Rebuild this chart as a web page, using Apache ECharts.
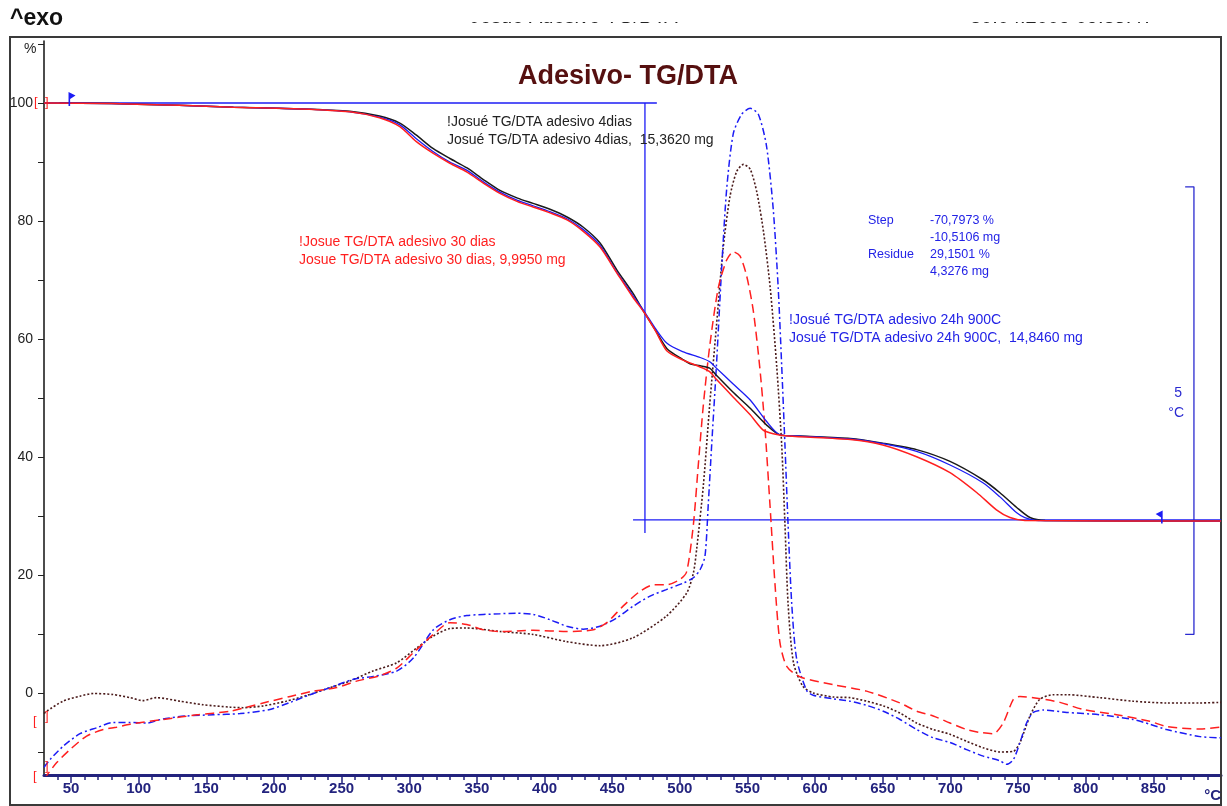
<!DOCTYPE html>
<html>
<head>
<meta charset="utf-8">
<title>Adesivo- TG/DTA</title>
<script src="https://cdn.jsdelivr.net/npm/echarts@6/dist/echarts.min.js"></script>
<style>
  html, body { margin: 0; padding: 0; background: #fff; }
  #chart { width: 1227px; height: 806px; }
</style>
</head>
<body>
<div id="chart"></div>
<script>
// ---- axis ranges / ticks ----
const tempMin = 30;
const tempMax = 900;
const yMin = -13.8;
const yMax = 110.5;
const xLabelTicks = [50, 100, 150, 200, 250, 300, 350, 400, 450, 500, 550, 600, 650, 700, 750, 800, 850];
const xMinorTicks = [40, 60, 70, 80, 90, 110, 120, 130, 140, 160, 170, 180, 190, 210, 220, 230, 240, 260, 270, 280, 290,
  310, 320, 330, 340, 360, 370, 380, 390, 410, 420, 430, 440, 460, 470, 480, 490, 510, 520, 530, 540, 560, 570, 580, 590,
  610, 620, 630, 640, 660, 670, 680, 690, 710, 720, 730, 740, 760, 770, 780, 790, 810, 820, 830, 840, 860, 870, 880, 890];
const yLabelTicks = [0, 20, 40, 60, 80, 100];
const yTicks = [-10, 0, 10, 20, 30, 40, 50, 60, 70, 80, 90, 100, 110];

// ---- TG curves (%) ----
const tg4Temp = [30, 80, 130, 170, 220, 256, 278, 293, 305, 317.5, 330, 342.7, 355, 367, 380, 391.5, 404, 416.6, 428.4, 441, 453.5, 465.3, 474, 482, 490.5, 502, 508, 515, 522, 527, 539, 552, 564, 574, 589, 626, 650, 675, 699.7, 724, 736.6, 749, 758.8, 770, 900];
const tg4Mass = [100, 99.9, 99.6, 99.3, 99.0, 98.6, 97.8, 96.6, 94.6, 92.3, 90.6, 89.0, 87.0, 85.2, 83.9, 83.0, 82.0, 80.7, 79.0, 76.3, 71.7, 67.8, 64.4, 61.5, 58.4, 56.6, 55.8, 55.5, 55.1, 53.9, 51.1, 48.3, 45.5, 43.8, 43.6, 43.2, 42.4, 41.3, 39.3, 36.2, 34.0, 31.5, 29.8, 29.3, 29.2];

const tg24Temp = [30, 80, 130, 170, 220, 256, 278, 293, 305, 317.5, 330, 342.7, 355, 367, 380, 391.5, 404, 416.6, 428.4, 441, 453.5, 465.3, 474, 482, 490.5, 502, 515, 522, 527, 539, 552, 564, 574, 589, 626, 650, 675, 699.7, 724, 736.6, 749, 755, 765, 900];
const tg24Mass = [100, 99.9, 99.6, 99.3, 99.0, 98.5, 97.6, 96.3, 94.0, 91.8, 90.0, 88.6, 86.6, 84.9, 83.5, 82.6, 81.6, 80.4, 78.6, 75.9, 71.3, 67.4, 64.6, 61.8, 59.3, 57.9, 56.9, 56.2, 55.1, 52.5, 49.7, 46.1, 43.8, 43.6, 43.1, 42.3, 41.0, 38.7, 35.7, 33.3, 30.6, 29.8, 29.3, 29.2];

const tg30Temp = [30, 80, 130, 170, 220, 256, 278, 293, 305, 317.5, 330, 342.7, 355, 367, 380, 391.5, 404, 416.6, 428.4, 441, 453.5, 465.3, 474, 482, 490.5, 502, 515, 522, 527, 539, 552, 561.6, 569, 580, 626, 650, 675, 699.7, 719.6, 734, 744, 755, 900];
const tg30Mass = [100, 99.9, 99.6, 99.3, 99.0, 98.5, 97.5, 96.0, 93.5, 91.5, 89.8, 88.3, 86.4, 84.7, 83.3, 82.4, 81.4, 80.2, 78.3, 75.6, 71.2, 67.1, 64.4, 61.4, 58.0, 56.5, 55.3, 54.5, 53.2, 50.3, 47.2, 44.6, 44.0, 43.6, 43.0, 42.1, 40.1, 37.4, 34.0, 31.1, 29.8, 29.3, 29.2];

// ---- DTA curves (read in the same plot units) ----
const dta4Temp = [30, 32, 44, 56.6, 66.4, 81, 93.6, 103, 113, 130.5, 147.5, 167.5, 177, 192, 209, 224, 241, 256, 273, 290.7, 305.5, 317.5, 330, 342, 367, 391.5, 416, 441, 465, 490, 505, 510, 512.5, 517.4, 522, 527, 532, 537, 542, 547, 552, 557, 561.9, 566.8, 571.6, 575.3, 577.7, 580, 584, 591, 598.6, 613.4, 625.7, 638, 650.4, 662.7, 675, 687.3, 699.7, 712, 724.3, 736.6, 746.5, 751.4, 758.8, 766, 776, 786, 810.5, 835, 859.8, 884.5, 900];
const dta4Val = [-3.4, -3.0, -1.3, -0.45, 0, -0.17, -0.7, -1.2, -0.7, -1.3, -1.9, -2.3, -2.4, -2.1, -1.3, -0.34, 0.96, 2.1, 3.8, 5.2, 7.7, 9.7, 11.0, 11.1, 10.5, 10.0, 8.8, 8.1, 9.4, 13.1, 17.0, 20.4, 24.6, 35.3, 48.7, 62.1, 75.4, 84.1, 88.4, 89.6, 88.8, 84.8, 78.1, 68.7, 55.4, 42.0, 28.6, 15.2, 5.2, 1.2, 0.1, -0.6, -0.7, -1.3, -2.1, -3.3, -5.0, -6.1, -6.9, -8.1, -9.2, -9.9, -9.8, -8.3, -3.8, -1.0, -0.2, -0.2, -0.7, -1.3, -1.6, -1.6, -1.5];

const dta24Temp = [30, 34.4, 44.3, 56.6, 69, 81.2, 93.6, 106, 118, 135.5, 155, 175, 197, 212, 226.6, 241.4, 258.6, 273.4, 290.7, 303, 317.8, 330, 342.5, 367, 379, 391.7, 404, 416.4, 428.6, 441, 453.3, 465.6, 478, 490, 502.5, 510, 515, 518.6, 521, 523.5, 527, 530.9, 534.6, 539.5, 545.7, 552, 558, 564, 569, 572.7, 575.3, 577.7, 580, 582.7, 586.3, 593.7, 598.6, 613.4, 625.7, 638, 650.4, 662.7, 675, 687.3, 699.7, 712, 724.3, 736.6, 741.5, 746.5, 751.4, 756.3, 761.2, 768.6, 786, 810.5, 835, 847.4, 859.8, 884.5, 900];
const dta24Val = [-12.5, -11.2, -8.9, -6.8, -5.8, -4.9, -4.9, -5.0, -4.3, -3.8, -3.6, -3.4, -2.7, -1.5, -0.2, 1.0, 2.4, 2.9, 3.8, 6.0, 10.8, 12.5, 13.2, 13.5, 13.6, 13.4, 12.5, 11.4, 10.9, 11.4, 12.8, 14.8, 16.5, 17.6, 18.7, 19.6, 21.0, 23.3, 32.0, 42.0, 55.4, 72.0, 85.4, 94.8, 98.1, 99.1, 98.1, 92.8, 82.1, 68.7, 55.4, 42.0, 28.6, 15.2, 5.9, 0.5, -0.3, -0.9, -1.3, -2.0, -3.0, -4.4, -6.1, -7.5, -8.3, -9.5, -10.6, -11.4, -12.0, -11.2, -8.3, -5.0, -3.2, -2.8, -3.2, -3.6, -4.4, -5.2, -6.1, -7.3, -7.5];

const dta30Temp = [30, 39.4, 49.2, 61.5, 73.8, 83.7, 93.6, 118, 143, 167.5, 192, 212, 229, 246.3, 261, 278, 290.7, 303, 317.8, 330, 342.5, 354.7, 367, 391.7, 416.4, 436, 446, 458, 470.5, 480.4, 490, 500, 505, 510, 513.6, 517.3, 522, 528.4, 534.6, 539.5, 544.4, 549.4, 554.3, 559, 562.8, 566.6, 570.3, 574, 579, 589, 613.4, 638, 662.7, 675, 687.3, 699.7, 712, 722, 731.8, 739, 746.5, 751.4, 761.2, 781, 798, 822.8, 847.4, 859.8, 884.5, 900];
const dta30Val = [-14.5, -11.7, -9.5, -7.2, -6.1, -5.7, -5.2, -4.4, -3.6, -3.0, -1.6, -0.5, 0.4, 1.0, 2.1, 3.0, 4.3, 6.9, 10.0, 12.0, 11.7, 10.8, 10.5, 10.7, 10.5, 10.8, 12.0, 14.8, 17.3, 18.4, 18.4, 19.3, 20.6, 28.6, 38.6, 48.7, 58.7, 68.7, 73.4, 74.8, 74.1, 70.7, 64.8, 55.4, 45.3, 32.0, 18.6, 8.6, 4.6, 2.8, 1.5, 0.4, -1.6, -3.0, -3.8, -5.0, -6.1, -6.6, -6.8, -5.0, -1.0, -0.5, -0.7, -1.5, -2.7, -3.6, -4.7, -5.6, -6.0, -5.7];

// ---- step evaluation marks (data units) ----
const stepTopLine = [[41, 100], [483, 100]];
const stepMidLine = [[474.2, 100], [474.2, 27.2]];
const stepBottomLine = [[465.4, 29.4], [900, 29.4]];
const stepFlagLeft = [48.5, 100];
const stepFlagRight = [856.5, 29.4];
const dtaScaleBar = [[873.5, 85.8], [880, 85.8], [880, 10], [873.5, 10]];

(function() {
  'use strict';

  const BLUE = '#1c1cf5';
  const RED = '#ff1f1f';
  const BROWN = '#4a1a1a';
  const BLACK = '#1a1a1a';
  const NAVY = '#23237e';
  const FONT = '"Liberation Sans", Arial, sans-serif';

  document.addEventListener('DOMContentLoaded', function() {
    initChart();
  });

  function pairs(xs, ys) {
    return xs.map(function(x, i) { return [x, ys[i]]; });
  }

  function curve(name, temps, vals, color, type, width) {
    return {
      name: name,
      type: 'line',
      data: pairs(temps, vals),
      showSymbol: false,
      smooth: 0.25,
      silent: true,
      lineStyle: { color: color, width: width, type: type },
      z: 3
    };
  }

  function guide(points, extra) {
    const s = {
      type: 'line',
      data: points,
      showSymbol: false,
      silent: true,
      lineStyle: { color: BLUE, width: 1.3 },
      z: 2
    };
    return Object.assign(s, extra || {});
  }

  function txt(x, y, text, font, color, align) {
    return {
      type: 'text',
      x: x,
      y: y,
      z: 10,
      style: {
        text: text,
        font: font,
        fill: color,
        align: align || 'left',
        verticalAlign: 'middle'
      }
    };
  }

  function initChart() {
    const chartDom = document.getElementById('chart');
    const myChart = echarts.init(chartDom, null, { renderer: 'canvas' });

    const legendFont = '14px ' + FONT;
    const stepFont = '12.5px ' + FONT;

    const option = {
      animation: false,
      backgroundColor: '#fff',
      grid: { left: 44, right: 6, top: 41, bottom: 31, containLabel: false },
      xAxis: [
        {
          type: 'value',
          min: tempMin,
          max: tempMax,
          position: 'bottom',
          axisLine: { show: true, onZero: false, lineStyle: { color: NAVY, width: 3 } },
          axisTick: { show: true, customValues: xLabelTicks, length: 8, lineStyle: { color: NAVY, width: 1.5 } },
          axisLabel: {
            customValues: xLabelTicks,
            color: NAVY,
            fontFamily: FONT,
            fontWeight: 'bold',
            fontSize: 15,
            margin: 6
          },
          splitLine: { show: false }
        },
        {
          type: 'value',
          min: tempMin,
          max: tempMax,
          position: 'bottom',
          offset: 0,
          axisLine: { show: false, onZero: false },
          axisTick: { show: true, customValues: xMinorTicks, length: 5, lineStyle: { color: NAVY, width: 1.5 } },
          axisLabel: { show: false },
          splitLine: { show: false }
        }
      ],
      yAxis: {
        type: 'value',
        min: yMin,
        max: yMax,
        axisLine: { show: true, onZero: false, lineStyle: { color: '#111', width: 1.5 } },
        axisTick: { show: true, customValues: yTicks, length: 6, lineStyle: { color: '#222' } },
        axisLabel: {
          customValues: yLabelTicks,
          color: '#222',
          fontFamily: FONT,
          fontSize: 14,
          margin: 11
        },
        splitLine: { show: false }
      },
      series: [
        guide(stepTopLine, {
          markPoint: {
            silent: true,
            symbol: 'path://M0,0 L7,3.5 L1.6,7 L1.6,14 L0,14 Z',
            symbolSize: [7, 14],
            symbolOffset: [3, -4],
            itemStyle: { color: BLUE },
            label: { show: false },
            data: [{ coord: stepFlagLeft }]
          }
        }),
        guide(stepMidLine),
        guide(stepBottomLine, {
          markPoint: {
            silent: true,
            symbol: 'path://M7,0 L0,3.5 L5.4,7 L5.4,13 L7,13 Z',
            symbolSize: [7, 13],
            symbolOffset: [-3, -3],
            itemStyle: { color: BLUE },
            label: { show: false },
            data: [{ coord: stepFlagRight }]
          }
        }),
        guide(dtaScaleBar, { lineStyle: { color: '#2a2ad0', width: 1.3 } }),

        curve('DTA 4dias', dta4Temp, dta4Val, BROWN, [2, 2], 1.6),
        curve('DTA 24h 900C', dta24Temp, dta24Val, BLUE, [7, 3, 2, 3], 1.5),
        curve('DTA 30 dias', dta30Temp, dta30Val, RED, [9, 5], 1.5),

        curve('TG 4dias', tg4Temp, tg4Mass, BLACK, 'solid', 1.5),
        curve('TG 24h 900C', tg24Temp, tg24Mass, BLUE, 'solid', 1.3),
        curve('TG 30 dias', tg30Temp, tg30Mass, RED, 'solid', 1.5)
      ],
      graphic: [
        // outer frame
        {
          type: 'rect',
          z: 1,
          shape: { x: 10, y: 37, width: 1211, height: 768 },
          style: { fill: 'none', stroke: '#3a3a3a', lineWidth: 2 }
        },
        // header line (mostly cut off)
        txt(470, 17, 'Josué Adesivo TG/DTA', '20px ' + FONT, '#222'),
        txt(970, 17, '30.04.2009 09:35:47', '20px ' + FONT, '#222'),
        {
          type: 'rect',
          z: 11,
          shape: { x: 300, y: 0, width: 927, height: 22 },
          style: { fill: '#fff' }
        },
        txt(10, 19, '^exo', 'bold 23px ' + FONT, '#111'),
        txt(628, 77, 'Adesivo- TG/DTA', 'bold 27px ' + FONT, '#561010', 'center'),

        txt(24, 49, '%', '14px ' + FONT, '#222'),
        txt(1221, 796, '°C', 'bold 15px ' + FONT, NAVY, 'right'),

        // curve start brackets
        txt(34, 102, '[', '13px ' + FONT, RED),
        txt(45, 102, ']', '13px ' + FONT, RED),
        txt(33, 721, '[', '13px ' + FONT, RED),
        txt(45, 716, ']', '13px ' + FONT, RED),
        txt(45, 766, ']', '13px ' + FONT, RED),
        txt(33, 776, '[', '13px ' + FONT, RED),

        txt(447, 122, '!Josué TG/DTA adesivo 4dias', legendFont, '#222'),
        txt(447, 140, 'Josué TG/DTA adesivo 4dias,  15,3620 mg', legendFont, '#222'),

        txt(299, 242, '!Josue TG/DTA adesivo 30 dias', legendFont, RED),
        txt(299, 260, 'Josue TG/DTA adesivo 30 dias, 9,9950 mg', legendFont, RED),

        txt(789, 320, '!Josué TG/DTA adesivo 24h 900C', legendFont, '#2323e6'),
        txt(789, 338, 'Josué TG/DTA adesivo 24h 900C,  14,8460 mg', legendFont, '#2323e6'),

        txt(868, 221, 'Step', stepFont, '#2323e6'),
        txt(930, 221, '-70,7973 %', stepFont, '#2323e6'),
        txt(930, 238, '-10,5106 mg', stepFont, '#2323e6'),
        txt(868, 255, 'Residue', stepFont, '#2323e6'),
        txt(930, 255, '29,1501 %', stepFont, '#2323e6'),
        txt(930, 272, '4,3276 mg', stepFont, '#2323e6'),

        txt(1182, 393, '5', '14px ' + FONT, '#2a2ad0', 'right'),
        txt(1184, 413, '°C', '14px ' + FONT, '#2a2ad0', 'right')
      ]
    };

    myChart.setOption(option);

    window.addEventListener('resize', function() {
      myChart.resize();
    });
  }

})();
</script>
</body>
</html>
